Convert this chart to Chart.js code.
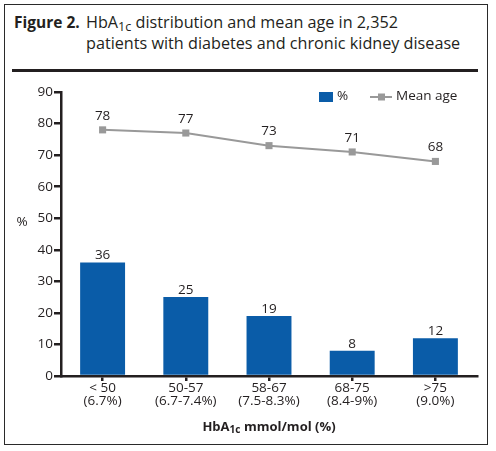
<!DOCTYPE html>
<html>
<head>
<meta charset="utf-8">
<script src="https://cdn.jsdelivr.net/npm/chart.js@4/dist/chart.umd.min.js"></script>
<style>
  html,body{margin:0;padding:0;background:#fff;}
  body{width:496px;height:451px;position:relative;overflow:hidden;font-family:"Open Sans","Noto Sans",sans-serif;}
  #frame{position:absolute;left:4px;top:4px;width:484px;height:441px;border:1.5px solid #2a2a2a;box-sizing:border-box;}
  #head{position:absolute;left:14px;top:12px;font-size:16.2px;line-height:21px;color:#231f20;}
  #head b{position:absolute;left:0;top:0;white-space:nowrap;font-size:15.5px;}
  #head .t{position:absolute;left:72px;top:0;white-space:nowrap;}
  #rule{position:absolute;left:12px;top:69px;width:466px;height:3px;background:#231f20;}
  #xt{position:absolute;left:61px;width:416px;top:417px;text-align:center;font-weight:bold;font-size:13px;color:#231f20;}
  sub{font-size:78%;vertical-align:-0.2em;line-height:0;}
  #wrap{position:absolute;left:0;top:0;width:496px;height:451px;}
</style>
</head>
<body>
<div id="frame"></div>
<div id="head"><b>Figure 2.</b><span class="t">HbA<sub>1c</sub> distribution and mean age in 2,352<br>patients with diabetes and chronic kidney disease</span></div>
<div id="rule"></div>
<div id="wrap"><canvas id="c" width="496" height="451"></canvas></div>
<div id="xt">HbA<sub>1c</sub> mmol/mol (%)</div>
<script>
const categories = [["< 50","(6.7%)"],["50-57","(6.7-7.4%)"],["58-67","(7.5-8.3%)"],["68-75","(8.4-9%)"],[">75","(9.0%)"]];
const percentValues = [36, 25, 19, 8, 12];
const meanAgeValues = [78, 77, 73, 71, 68];
const yTicks = [0,10,20,30,40,50,60,70,80,90];

const BLUE = '#0a5ca8';
const GREY = '#999999';
const TXT = '#231f20';
const FONT = '"Open Sans","Noto Sans",sans-serif';

const labelsPlugin = {
  id: 'valueLabels',
  afterDatasetsDraw(chart) {
    const ctx = chart.ctx;
    ctx.save();
    ctx.fillStyle = TXT;
    ctx.font = '13.5px ' + FONT;
    ctx.textAlign = 'center';
    ctx.textBaseline = 'middle';
    chart.data.datasets.forEach((ds, i) => {
      const meta = chart.getDatasetMeta(i);
      meta.data.forEach((el, j) => {
        const off = ds.type === 'line' ? 14 : 7;
        ctx.fillText(String(ds.data[j]), el.x, el.y - off);
      });
    });
    const a = chart.chartArea;
    ctx.fillText('%', a.left - 39, (a.top + a.bottom) / 2 - 12);
    ctx.restore();
  }
};

const legendPlugin = {
  id: 'customLegend',
  afterDraw(chart) {
    const ctx = chart.ctx;
    const ds = chart.data.datasets;
    const barDs = ds.find(d => d.type === 'bar');
    const lineDs = ds.find(d => d.type === 'line');
    ctx.save();
    ctx.font = '13.5px ' + FONT;
    ctx.textBaseline = 'middle';
    ctx.textAlign = 'left';
    const y = 97;
    ctx.fillStyle = BLUE;
    ctx.fillRect(319, y - 5, 14, 10);
    ctx.fillStyle = TXT;
    ctx.fillText(barDs.label, 337, y - 1);
    ctx.strokeStyle = GREY;
    ctx.lineWidth = 2;
    ctx.beginPath();
    ctx.moveTo(370, y); ctx.lineTo(392, y);
    ctx.stroke();
    ctx.fillStyle = GREY;
    ctx.fillRect(378, y - 3.5, 7, 7);
    ctx.fillStyle = TXT;
    ctx.fillText(lineDs.label, 396, y - 1);
    ctx.restore();
  }
};

new Chart(document.getElementById('c'), {
  data: {
    labels: categories,
    datasets: [
      {
        type: 'line',
        label: 'Mean age',
        data: meanAgeValues,
        borderColor: GREY,
        backgroundColor: GREY,
        borderWidth: 2,
        pointStyle: 'rect',
        pointRadius: 5,
        pointBackgroundColor: GREY,
        pointBorderWidth: 0,
        tension: 0,
        order: 0
      },
      {
        type: 'bar',
        label: '%',
        data: percentValues,
        backgroundColor: BLUE,
        barPercentage: 0.54,
        categoryPercentage: 1.0,
        order: 1
      }
    ]
  },
  options: {
    responsive: false,
    animation: false,
    devicePixelRatio: 1,
    layout: { padding: { left: 0, right: 19, top: 92, bottom: 0 } },
    plugins: { legend: { display: false }, tooltip: { enabled: false } },
    scales: {
      x: {
        offset: true,
        grid: { display: true, drawOnChartArea: false, drawTicks: true, tickLength: 5, color: TXT, lineWidth: 2.5, offset: false },
        border: { display: true, color: TXT, width: 2.5 },
        ticks: { color: TXT, font: { family: FONT, size: 13.5, lineHeight: 0.95 }, padding: 1, maxRotation: 0, autoSkip: false },
        afterFit(s) { s.height = 75; }
      },
      y: {
        min: 0, max: 90,
        afterBuildTicks(s) { s.ticks = yTicks.map(v => ({ value: v })); },
        grid: { display: true, drawOnChartArea: false, drawTicks: true, tickLength: 7, color: TXT, lineWidth: 2.5 },
        border: { display: true, color: TXT, width: 2.5 },
        ticks: { color: TXT, font: { family: FONT, size: 13.5 }, padding: 1 },
        afterFit(s) { s.width = 61; }
      }
    }
  },
  plugins: [labelsPlugin, legendPlugin]
});
</script>
</body>
</html>
